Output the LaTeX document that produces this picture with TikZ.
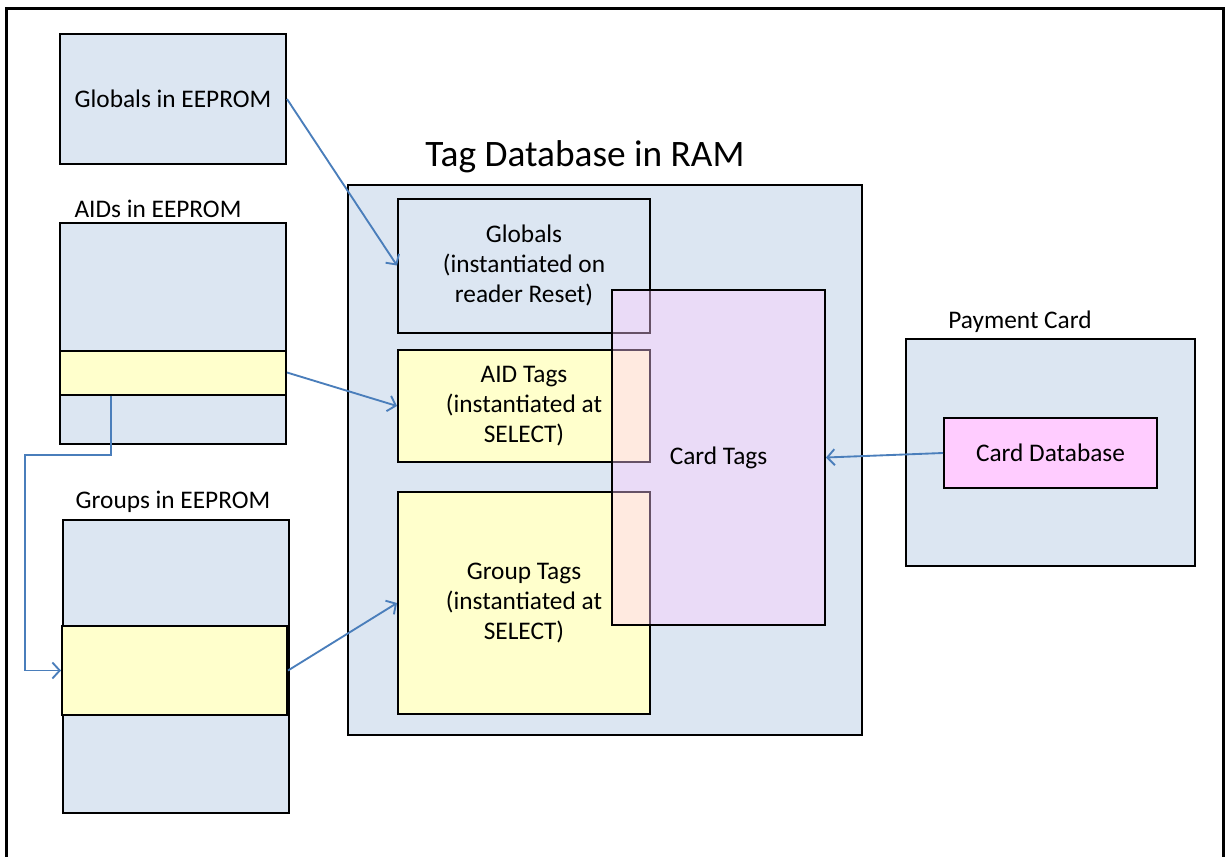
\documentclass[tikz,border=0pt]{standalone}
\usepackage{fontspec}
\setmainfont{Carlito}
\usetikzlibrary{arrows.meta,positioning}
\definecolor{memblue}{RGB}{220,230,242}
\definecolor{memyellow}{RGB}{255,255,204}
\definecolor{mempink}{RGB}{255,204,255}
\definecolor{linkblue}{RGB}{74,126,187}
\tikzset{
 box/.style={draw=black,line width=1.5pt,inner sep=0pt,align=center,
  font=\fontsize{19}{22.5}\selectfont},
 sz/.style 2 args={minimum width=#1*0.75pt,minimum height=#2*0.75pt},
 caption/.style={inner sep=0pt,font=\fontsize{19}{22.5}\selectfont},
 link/.style={draw=linkblue,line width=1.4pt,-{Straight Barb[length=5.5pt,width=12pt]}},
}

\begin{document}
\begin{tikzpicture}[x=0.75pt,y=-0.75pt]
   \useasboundingbox (0,0) rectangle (1225,857);
   \draw[line width=2.25pt] (6,8) rectangle (1223,900);
   % EEPROM side
   \node[box,sz={226}{130},fill=memblue] (glbeep) at (173,99) {Globals in EEPROM};
   \node[caption] (aidlabel) at (158,209) {AIDs in EEPROM};
   \node[box,sz={226}{221},fill=memblue] (aideep) at (173,333.5) {};
   \node[box,sz={226}{44},fill=memyellow] (aidstrip) at (173,372.5) {};
   \node[caption] (grplabel) at (173,502) {Groups in EEPROM};
   \node[box,sz={226}{293},fill=memblue] (grpeep) at (176,666.5) {};
   \node[box,sz={225}{89},fill=memyellow] (grpstrip) at (174.5,670.5) {};
   % RAM
   \node[inner sep=0pt,font=\fontsize{28}{33}\selectfont] (title) at (585,157) {Tag Database in RAM};
   \node[box,sz={514}{550},fill=memblue] (tagdb) at (605,460) {};
   \node[box,sz={252}{134},fill=memblue] (globals) at (524,265.5) {Globals\\(instantiated on\\reader Reset)};
   \node[box,sz={252}{112},fill=memyellow] (aidtags) at (524,406) {AID Tags\\(instantiated at\\SELECT)};
   \node[box,sz={252}{222},fill=memyellow] (grptags) at (524,603) {Group Tags\\(instantiated at\\SELECT)};
   \node[box,sz={213}{335},fill=mempink,fill opacity=0.4,text opacity=1] (cardtags) at (718.5,457.5) {Card Tags};
   % card
   \node[caption] (paylabel) at (1020,322) {Payment Card};
   \node[box,sz={289}{227},fill=memblue] (payment) at (1050.5,452.5) {};
   \node[box,sz={213}{70},fill=mempink] (carddb) at (1050.5,453) {Card Database};
   % links
   \coordinate (bend) at (25,455);
   \draw[link] (glbeep.east) -- (globals.west);
   \draw[link] (aidstrip.east) -- (aidtags.west);
   \draw[link] (grpstrip.east) -- (grptags.west);
   \draw[link] ([xshift=39pt]aidstrip.south west) |- (bend) |- (grpstrip.west);
   \draw[link] (carddb.west) -- (cardtags.east);
\end{tikzpicture}
\end{document}
